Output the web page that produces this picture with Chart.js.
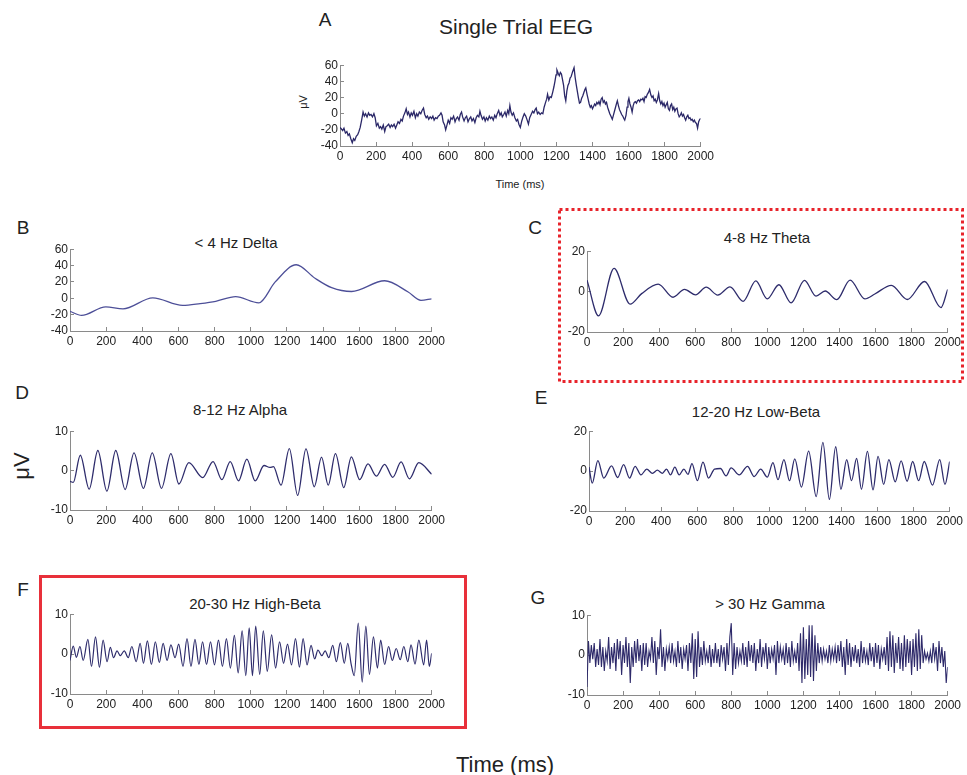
<!DOCTYPE html>
<html>
<head>
<meta charset="utf-8">
<title>EEG frequency bands</title>
<script src="https://cdn.jsdelivr.net/npm/chart.js@4.4.0/dist/chart.umd.min.js"></script>
<style>
  body { margin: 0; background: #fff; font-family: "Liberation Sans", Arial, Helvetica, sans-serif; color: #222; }
  #page { position: relative; width: 967px; height: 775px; overflow: hidden; }
  .lbl { position: absolute; white-space: nowrap; transform: translate(-50%, -50%); }
  .rot { transform: translate(-50%, -50%) rotate(-90deg); }
  .panel { position: absolute; }
  svg { position: absolute; left: 0; top: 0; }
</style>
</head>
<body>
<div id="page">
  <svg width="967" height="775">
    <rect x="559.5" y="209.5" width="403" height="172" fill="none" stroke="#e8232b" stroke-width="3" stroke-dasharray="3 3"/>
    <rect x="40.5" y="576.5" width="425" height="151" fill="none" stroke="#e8303a" stroke-width="3"/>
  </svg>

  <div class="lbl" style="left:325px;top:20px;font-size:19px">A</div>
  <div class="lbl" style="left:516px;top:27px;font-size:21px">Single Trial EEG</div>
  <div class="lbl rot" style="left:303px;top:102px;font-size:11px">μV</div>
  <div class="lbl" style="left:520px;top:184px;font-size:11px">Time (ms)</div>

  <div class="lbl" style="left:23px;top:228px;font-size:19px">B</div>
  <div class="lbl" style="left:236px;top:242px;font-size:15px">&lt; 4 Hz Delta</div>
  <div class="lbl" style="left:535px;top:228px;font-size:19px">C</div>
  <div class="lbl" style="left:767px;top:237px;font-size:15px">4-8 Hz Theta</div>

  <div class="lbl" style="left:22px;top:393px;font-size:19px">D</div>
  <div class="lbl" style="left:240px;top:409px;font-size:15px">8-12 Hz Alpha</div>
  <div class="lbl rot" style="left:22px;top:466px;font-size:22px">μV</div>
  <div class="lbl" style="left:541px;top:398px;font-size:19px">E</div>
  <div class="lbl" style="left:756px;top:411px;font-size:15px">12-20 Hz Low-Beta</div>

  <div class="lbl" style="left:23px;top:590px;font-size:19px">F</div>
  <div class="lbl" style="left:255px;top:603px;font-size:15px">20-30 Hz High-Beta</div>
  <div class="lbl" style="left:538px;top:598px;font-size:19px">G</div>
  <div class="lbl" style="left:770px;top:603px;font-size:15px">&gt; 30 Hz Gamma</div>

  <div class="lbl" style="left:505px;top:765px;font-size:22px">Time (ms)</div>
</div>

<script>
// A - single trial EEG (raw)
const tA = [0,8,15,22,30,38,45,52,60,68,75,82,90,98,105,112,120,128,135,142,150,158,165,172,180,188,195,202,210,218,225,232,240,248,255,262,270,278,285,292,300,308,315,322,330,338,345,352,360,367,374,380,388,395,402,410,418,425,432,440,448,455,463,470,478,485,492,500,508,515,522,530,538,545,552,560,566,572,580,586,592,600,608,615,622,630,638,645,652,660,667,674,680,688,695,702,710,718,725,732,740,748,755,762,770,776,782,790,798,805,812,820,828,835,842,850,858,865,872,880,887,894,900,908,915,922,930,936,942,948,955,962,970,978,985,992,1000,1008,1015,1022,1030,1038,1045,1052,1060,1068,1075,1082,1088,1095,1102,1110,1118,1125,1132,1140,1146,1151,1158,1165,1172,1180,1186,1192,1198,1203,1210,1216,1222,1228,1234,1240,1246,1252,1258,1264,1270,1276,1282,1290,1298,1304,1310,1316,1322,1328,1334,1340,1346,1352,1358,1363,1370,1376,1382,1388,1394,1400,1406,1412,1418,1424,1430,1436,1442,1448,1454,1460,1466,1472,1478,1484,1490,1496,1502,1510,1516,1522,1528,1534,1538,1544,1550,1556,1562,1568,1574,1579,1586,1592,1597,1602,1608,1614,1620,1626,1632,1638,1644,1650,1656,1662,1668,1674,1680,1686,1692,1698,1704,1710,1717,1724,1730,1736,1742,1748,1754,1760,1767,1773,1779,1785,1791,1797,1803,1809,1815,1821,1827,1833,1839,1845,1851,1857,1863,1869,1875,1881,1887,1893,1899,1905,1911,1917,1923,1929,1935,1941,1947,1953,1959,1965,1971,1977,1983,1989,1995,2000];
const vA = [-17,-19,-21,-18,-24,-22,-27,-25,-31,-36,-31,-33,-28,-26,-22,-17,-8,2,-3,0,-4,1,-2,-1,-4,0,-5,-15,-12,-18,-16,-19,-14,-22,-16,-15,-13,-17,-14,-16,-13,-18,-14,-10,-12,-7,-9,-3,1,6,-1,2,-4,1,-2,3,-5,0,-3,2,0,4,7,-1,-5,-3,-7,-4,-6,-3,-8,-5,-6,-3,-2,1,-2,-10,-14,-20,-15,-8,-12,-5,-7,-3,-10,-6,-4,-8,-1,2,-4,-9,-5,-3,-10,-6,-4,-9,-6,-11,-5,-2,-4,3,-2,-7,-4,-9,-5,-8,-3,-6,-4,-8,-2,-5,0,4,-2,1,-4,-1,2,-3,4,0,10,2,-2,1,-5,-9,-7,-13,-17,-9,-4,0,-3,-8,-13,-5,-1,3,1,5,7,0,2,-1,1,0,8,14,18,24,17,21,20,27,33,40,48,54,50,47,51,49,42,35,22,16,28,35,38,44,46,52,57,45,36,28,20,13,14,19,22,26,30,32,24,18,12,8,10,6,9,12,10,14,12,15,11,18,20,14,16,12,14,8,4,0,-3,-7,-2,3,8,13,16,10,5,2,-1,-3,-6,-8,-2,8,15,19,12,8,2,10,14,15,13,16,17,15,18,17,19,15,21,20,24,26,30,23,20,22,16,18,14,17,25,16,12,15,10,13,8,11,14,6,4,10,12,5,8,3,6,7,0,-4,-2,1,-3,-1,-5,-8,-4,-2,-6,-5,-8,-7,-10,-8,-11,-12,-18,-10,-7,-6];

// B - delta (< 4 Hz), turning points
const tB = [0,64,198,293,458,623,720,806,916,1044,1135,1251,1355,1447,1557,1740,1868,1941,2000];
const vB = [-16,-21,-10.5,-13,0.5,-8.7,-6.5,-3.7,2,-5.6,20,41,24.5,13,8.3,21.4,8,-2.5,-0.6];

// C - theta (4-8 Hz)
const tC = [0,64,150,239,303,395,477,541,602,661,725,793,866,936,1000,1064,1132,1206,1270,1321,1385,1459,1541,1596,1688,1776,1872,1963,2000];
const vC = [5.7,-12,11.5,-6.2,-1,3.7,-2.8,1.1,-1.6,2.2,-1.7,2.3,-4.8,5.3,-3.6,3.4,-5.6,5.6,-2.2,0.3,-4,5.7,-3.6,-1.2,3.1,-3.9,5,-7.9,1.1];

// D - alpha (8-12 Hz)
const tD = [0,18,57,106,154,204,253,305,354,406,455,506,558,602,657,734,791,840,886,932,978,1024,1073,1106,1125,1167,1213,1259,1305,1351,1391,1428,1468,1514,1556,1602,1648,1694,1740,1785,1831,1877,1929,2000];
const vD = [-2.7,-3,3.9,-4.7,5.1,-5.2,5.1,-4.8,4.5,-4.5,4.5,-4.5,4.3,-3.4,2,-1.8,2.3,-2.3,2.3,-2.6,2.9,-2.6,1.3,0.8,1,-3.7,5.6,-6.3,5.5,-4.1,3.4,-3.7,4.3,-4.3,3.5,-2.3,1.7,-1.4,1.6,-1.7,2.2,-2.1,2,-0.9];

// E - low beta (12-20 Hz)
const tE = [0,18,49,82,125,159,192,225,256,288,320,352,379,407,430,452,476,500,526,549,571,601,632,663,696,729,760,788,833,879,916,952,989,1020,1048,1081,1112,1141,1178,1218,1260,1297,1333,1368,1397,1429,1456,1484,1511,1544,1575,1603,1634,1663,1698,1731,1764,1795,1828,1859,1905,1945,1974,2000];
const vE = [2,-6,5.3,-3.5,2.6,-3.2,3.2,-3.5,2.4,-1.9,1,-1.1,0.5,-1.1,1,-1.9,2,-1.9,1,-1.6,3.7,-4.8,4.5,-3.5,1,1.3,-2.4,1.6,-1.9,2.4,-2.7,1,-3,4.2,-4.3,5.8,-4.8,6.1,-8,10,-12.8,14.4,-14.2,12.2,-9.1,5.8,-4.8,6.4,-9.1,9.9,-9.4,7.4,-6.7,5.8,-5.4,5.1,-5.1,4.8,-4.8,4.8,-7,5.8,-6.7,4.8];

// F - high beta (20-30 Hz)
const tF = [0,18,35,55,73,99,119,141,163,183,205,223,241,260,278,300,322,342,366,388,406,428,450,472,494,515,537,558,581,601,625,647,669,691,713,733,755,777,799,821,843,865,887,909,930,952,972,991,1009,1027,1049,1069,1091,1115,1137,1159,1181,1203,1225,1247,1269,1289,1311,1333,1353,1371,1393,1411,1431,1453,1473,1495,1517,1536,1554,1572,1594,1616,1636,1656,1678,1700,1718,1740,1762,1782,1804,1826,1846,1868,1886,1908,1929,1956,1972,1987,2000];
const vF = [-1.6,2,-0.8,1.9,-1.6,3.7,-3.1,4.3,-3.3,3.5,-1.9,1.7,-0.9,0.8,-0.4,0.8,-0.9,1.9,-1.9,2.7,-2.3,3.3,-2.6,3.1,-2.1,2.7,-1.6,2.3,-0.9,2.5,-3.1,3.9,-3.1,3.7,-2.6,3.1,-2.6,3.1,-2.7,3.5,-3.1,3.9,-3.5,4.7,-4.7,5.8,-5.4,6.6,-5.4,7,-5.1,5.8,-4.3,4.8,-3.5,3.1,-2.3,2.5,-2.7,3.9,-3.3,3.9,-2.7,2.2,-1.2,1,-0.4,0.8,-0.9,2.2,-1.9,2.9,-2.3,2.7,-2.3,-5.4,7.8,-7,7,-5.1,4.3,-3.5,3.5,-2.6,1.9,-1.6,1.4,-1.4,1.9,-1.9,2.3,-2.5,3.5,-2.7,3.5,-3.1,0.2];

// G - gamma (> 30 Hz), one value every 8 ms from 0 to 2000
const gStep = 8;
const vG = [
  -8,3.5,-2,2.5,-1,3,-3,1.5,-2.5,4,
  -3,2,-4,1,-1.5,4.5,-3.5,2,-2,3,
  -4,4,-1,3.5,-5,2.5,-2,4.5,-3,3,
  -7,2,-3,3.5,-2,4,-1.5,2.5,-4,3,
  -2.5,3,-3,1,-1,4.5,-2,3.5,-5,2,
  -1,6.5,-3,2,-4,1.5,-1,2,-2,3,
  -1.5,1,-3,3.5,-2,2,-3.5,1.5,-1,2.5,
  -4,3,-2,5.5,-6,4,-5.5,6,-3,2,
  -2.5,3.5,-1.5,1,-2,2.5,-3,1.5,-2,3,
  -2,1.5,-3,2.5,-1,2,-4,3,-2.5,4.5,
  8,-5,3,-3.5,2,-2,1,-1.5,3,-2.5,
  2,-3,3.5,-1.5,2.5,-2,3,-4,1.5,-2,
  4,-3,2,-1,3,-3.5,2,-2,1.5,-1,
  2.5,-5,3.5,-2,2,-1,1.5,-2.5,3,-2,
  2,-3,3.5,-1.5,1,-2,3,-4,5.5,-7,
  7,-6,4,-5,7.5,-5.5,7.5,-6.5,5,-4,
  3,-2,2,-1.5,1.5,-1,1,-2,2.5,-1.5,
  1.5,-1,2,-2,2.5,-1.5,3.5,-3,2,-5,
  4,-2.5,3,-3,2,-1.5,2.5,-2,1.5,-3,
  3.5,-2,2,-1.5,1,-2.5,3,-1.5,2,-3,
  3,-2,2.5,-3.5,1.5,-1,2,-2.5,4.5,-4,
  6,-3,5,-4.5,3,-2,4.5,-3.5,3,-4,
  5,-3,4,-2,3.5,-5,4,-3,5.5,-4,
  6.5,-3.5,5,-2,1,-1,0.5,-1.5,1,-2,
  3,-1,2,-4,3.5,-2,2,-3,1,-7,
  -3
];
const tG = vG.map((v, i) => i * gStep);

const xTicks = [0,200,400,600,800,1000,1200,1400,1600,1800,2000];
const yTicks40 = [-40,-20,0,20,40,60];
const yTicks20 = [-20,0,20];
const yTicks10 = [-10,0,10];

const AXIS_W = 36, AXIS_H = 22, PAD_T = 8, PAD_R = 18;
const tickFont = { size: 12, family: '"Liberation Sans", Arial, sans-serif' };

// plot-area rectangles [left, top, right, bottom] in page pixels
const panels = [
  { box: [340, 60, 703, 146],  t: tA, v: vA, y: yTicks40, smooth: false, color: '#2b2868', width: 1.3 },
  { box: [70, 244, 434, 331],  t: tB, v: vB, y: yTicks40, smooth: true,  color: '#4d4f98', width: 1.3 },
  { box: [587, 246, 950, 332], t: tC, v: vC, y: yTicks20, smooth: true,  color: '#2e2c6c', width: 1.3 },
  { box: [70, 426, 434, 510],  t: tD, v: vD, y: yTicks10, smooth: true,  color: '#2e2c6c', width: 1.3 },
  { box: [589, 426, 952, 511], t: tE, v: vE, y: yTicks20, smooth: true,  color: '#2e2c6c', width: 1.3 },
  { box: [70, 609, 434, 694],  t: tF, v: vF, y: yTicks10, smooth: true,  color: '#2e2c6c', width: 1.2 },
  { box: [587, 610, 950, 695], t: tG, v: vG, y: yTicks10, smooth: false, color: '#2e2a6a', width: 1.1 }
];

const page = document.getElementById('page');

panels.forEach(p => {
  const [L, T, R, B] = p.box;
  const w = R - L + AXIS_W + PAD_R;
  const h = B - T + AXIS_H + PAD_T;
  const wrap = document.createElement('div');
  wrap.className = 'panel';
  wrap.style.left = (L - AXIS_W) + 'px';
  wrap.style.top = (T - PAD_T) + 'px';
  const canvas = document.createElement('canvas');
  canvas.width = w;
  canvas.height = h;
  wrap.appendChild(canvas);
  page.appendChild(wrap);

  const pts = p.t.map((t, i) => ({ x: t, y: p.v[i] }));

  new Chart(canvas.getContext('2d'), {
    type: 'line',
    data: {
      datasets: [{
        data: pts,
        borderColor: p.color,
        borderWidth: p.width,
        pointRadius: 0,
        fill: false,
        tension: p.smooth ? 0.4 : 0,
        cubicInterpolationMode: p.smooth ? 'monotone' : 'default'
      }]
    },
    options: {
      responsive: false,
      animation: false,
      layout: { padding: { top: PAD_T, right: PAD_R, left: 0, bottom: 0 } },
      plugins: { legend: { display: false }, tooltip: { enabled: false } },
      scales: {
        x: {
          type: 'linear',
          min: 0,
          max: 2000,
          afterBuildTicks: s => { s.ticks = xTicks.map(v => ({ value: v })); },
          afterFit: s => { s.height = AXIS_H; },
          ticks: { color: '#222', font: tickFont, padding: 7, maxRotation: 0, autoSkip: false, callback: v => String(v) },
          grid: { drawOnChartArea: false, tickLength: -4, color: '#8a8a8a' },
          border: { color: '#8a8a8a' }
        },
        y: {
          min: p.y[0],
          max: p.y[p.y.length - 1],
          afterBuildTicks: s => { s.ticks = p.y.map(v => ({ value: v })); },
          afterFit: s => { s.width = AXIS_W; },
          ticks: { color: '#222', font: tickFont, padding: 6, autoSkip: false, callback: v => String(v) },
          grid: { drawOnChartArea: false, tickLength: -4, color: '#8a8a8a' },
          border: { color: '#8a8a8a' }
        }
      }
    }
  });
});
</script>
</body>
</html>
